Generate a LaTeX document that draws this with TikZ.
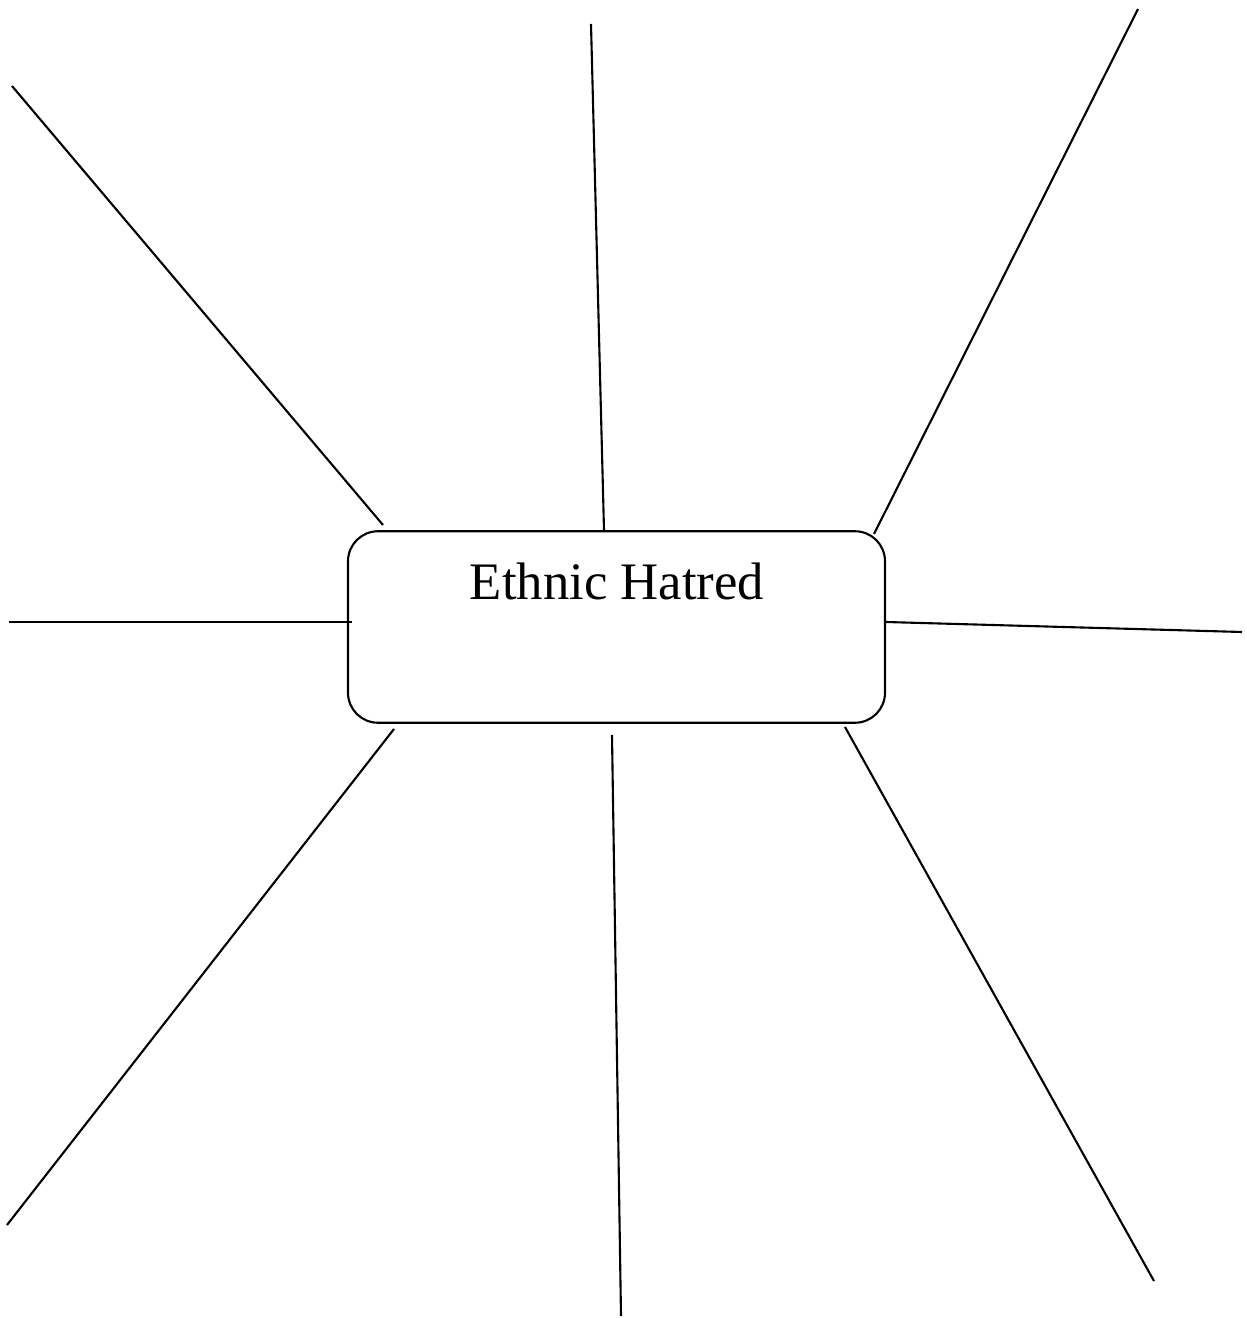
\documentclass[tikz,border=0pt]{standalone}
\usepackage{fontspec}
\setmainfont{Liberation Serif}
\usepackage{tikz}
\usetikzlibrary{positioning}

\begin{document}
\begin{tikzpicture}[spoke/.style={line width=0.6pt}]
  \useasboundingbox (0,0) rectangle (12.47,13.18);
  \node[draw,line width=0.6pt,rounded corners=0.3cm,minimum width=5.37cm,minimum height=1.915cm,inner sep=0pt] (box) at (6.165,6.91) {};
  \node[anchor=base,font=\fontsize{15}{18}\selectfont,inner sep=0pt] (title) at (6.17,7.18) {Ethnic Hatred};
  % spoke ends
  \coordinate (ulin) at (3.83,7.93);   \coordinate (ulout) at (0.12,12.32);
  \coordinate (tin) at (6.04,7.88);    \coordinate (tout) at (5.91,12.94);
  \coordinate (urin) at (8.74,7.84);   \coordinate (urout) at (11.38,13.09);
  \coordinate (lin) at (3.52,6.96);    \coordinate (lout) at (0.09,6.96);
  \coordinate (rin) at (8.86,6.96);    \coordinate (rout) at (12.42,6.86);
  \coordinate (llin) at (3.94,5.89);   \coordinate (llout) at (0.07,0.93);
  \coordinate (bin) at (6.12,5.83);    \coordinate (bout) at (6.21,0.02);
  \coordinate (lrin) at (8.45,5.91);   \coordinate (lrout) at (11.54,0.37);
  \draw[spoke] (ulin) -- (ulout);
  \draw[spoke] (tin) -- (tout);
  \draw[spoke] (urin) -- (urout);
  \draw[spoke] (lin) -- (lout);
  \draw[spoke] (rin) -- (rout);
  \draw[spoke] (llin) -- (llout);
  \draw[spoke] (bin) -- (bout);
  \draw[spoke] (lrin) -- (lrout);
\end{tikzpicture}
\end{document}
